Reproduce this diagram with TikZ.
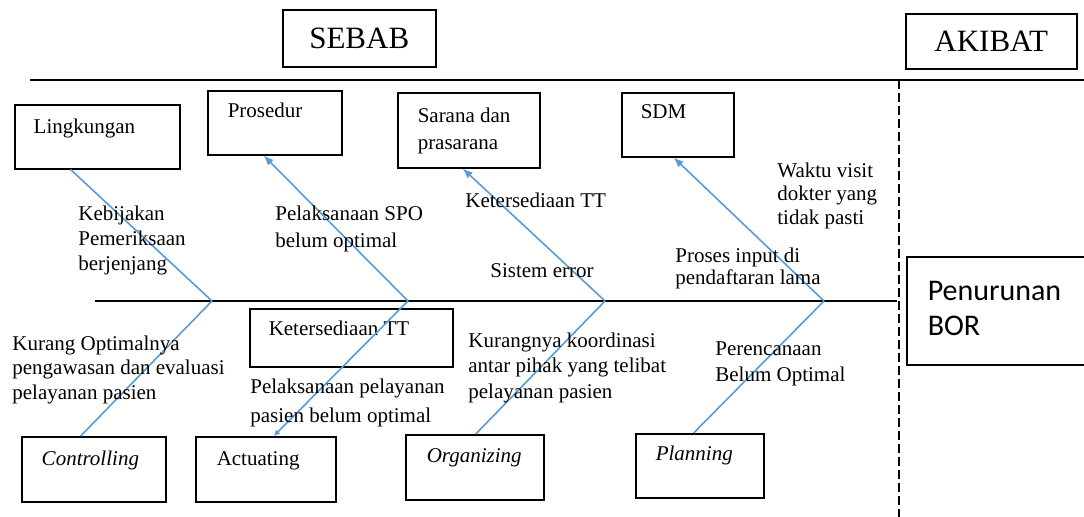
\documentclass[tikz,border=0pt]{standalone}
\usepackage{fontspec}
\setmainfont{Liberation Serif}
\newfontfamily\calibri{Carlito}
\usetikzlibrary{calc,arrows.meta}
\definecolor{biru}{RGB}{91,155,213}

\begin{document}
\begin{tikzpicture}[x=0.5pt,y=-0.5pt,
    kotak/.style={draw,line width=0.75pt,anchor=north west,inner ysep=0pt,align=flush left,font=\fontsize{10.5}{13.5}\selectfont},
    judul/.style={draw,line width=0.75pt,anchor=north west,inner sep=0pt,font=\fontsize{15.5}{18}\selectfont},
    ket/.style={anchor=base west,inner sep=0pt,align=flush left,font=\fontsize{10.5}{12.5}\selectfont},
    tulang/.style={draw=biru,line width=0.8pt},
    panah/.style={tulang,-{Latex[length=5pt,width=4pt]}}]
    \useasboundingbox (0,0) rectangle (1084,516);

    \coordinate (garisA) at (30,80);
    \coordinate (garisB) at (1084,80);
    \coordinate (batasA) at (899,80);
    \coordinate (batasB) at (899,520);
    \coordinate (ekor) at (95,301);
    \coordinate (kepala) at (897,301);
    \coordinate (j1) at (212,301);
    \coordinate (j2) at (408,301);
    \coordinate (j3) at (605,301);
    \coordinate (j4) at (824,301);

    % judul
    \node[judul,minimum width=76.5pt,minimum height=28.5pt] (sebab) at (282,9) {SEBAB};
    \node[judul,minimum width=85.5pt,minimum height=27.5pt] (akibat) at (905,13) {AKIBAT};

    % kotak atas
    \node[kotak,text width=63.5pt,inner xsep=9.5pt,text height=14.5pt,text depth=17.5pt] (lingkungan) at (14,104) {Lingkungan};
    \node[kotak,text width=47pt,inner xsep=10pt,text height=13.5pt,text depth=18.5pt] (prosedur) at (207,90) {Prosedur};
    \node[kotak,text width=51pt,inner xsep=10pt,text height=15pt,text depth=22.5pt] (sarana) at (397,92) {Sarana dan\\prasarana};
    \node[kotak,text width=37pt,inner xsep=9.5pt,text height=13pt,text depth=19pt] (sdm) at (621,92) {SDM};

    % kotak bawah
    \node[kotak,text width=52pt,inner xsep=10pt,text height=14.5pt,text depth=18pt] (controlling) at (21,436) {\textit{Controlling}};
    \node[kotak,text width=49pt,inner xsep=10.5pt,text height=14.5pt,text depth=18pt] (actuating) at (195,436) {Actuating};
    \node[kotak,text width=48pt,inner xsep=10.5pt,text height=14pt,text depth=18.5pt] (organizing) at (405,434) {\textit{Organizing}};
    \node[kotak,text width=44pt,inner xsep=10pt,text height=13.5pt,text depth=18.5pt] (planning) at (635,433) {\textit{Planning}};
    \node[kotak,text width=82.5pt,inner xsep=9.5pt,text height=13.5pt,text depth=15.5pt] (tt) at (249,308) {Ketersediaan TT};

    % akibat
    \node[kotak,text width=71pt,inner xsep=10.5pt,text height=22pt,text depth=32pt,font=\calibri\fontsize{15}{17.5}\selectfont] (bor) at (906,256) {Penurunan\\BOR};

    \draw[line width=0.8pt] (garisA) -- (garisB) (ekor) -- (kepala);
    \draw[line width=1pt,dash pattern=on 4.5pt off 2pt] (batasA) -- (batasB);

    \draw[tulang] (j1) -- ($(lingkungan.south west)!0.34!(lingkungan.south east)$);
    \draw[panah] (j2) -- ($(prosedur.south west)!0.418!(prosedur.south east)$);
    \draw[panah] (j3) -- ($(sarana.south west)!0.458!(sarana.south east)$);
    \draw[panah] (j4) -- ($(sdm.south west)!0.464!(sdm.south east)$);
    \draw[tulang] (j1) -- ($(controlling.north west)!0.41!(controlling.north east)$);
    \draw[tulang,-{Latex[length=3pt,width=3pt]}] (j2) -- ($(actuating.north west)!0.557!(actuating.north east)$);
    \draw[tulang] (j3) -- ($(organizing.north west)!0.507!(organizing.north east)$);
    \draw[tulang] (j4) -- ($(planning.north west)!0.453!(planning.north east)$);

    % keterangan (base = baris terakhir)
    \node[ket] (k1) at (78,270) {Kebijakan\\Pemeriksaan\\berjenjang};
    \node[ket,font=\fontsize{10.5}{13.5}\selectfont] (k2) at (275,247) {Pelaksanaan SPO\\belum optimal};
    \node[ket] (k3) at (465,207) {Ketersediaan TT};
    \node[ket] (k4) at (490,277) {Sistem error};
    \node[ket,font=\fontsize{10.5}{11.75}\selectfont] (k5) at (777,224) {Waktu visit\\dokter yang\\tidak pasti};
    \node[ket,font=\fontsize{10.5}{11}\selectfont] (k6) at (675,284) {Proses input di\\pendaftaran lama};
    \node[ket,font=\fontsize{10.5}{12.25}\selectfont] (k7) at (12,399) {Kurang Optimalnya\\pengawasan dan evaluasi\\pelayanan pasien};
    \node[ket,font=\fontsize{10.5}{14.5}\selectfont] (k8) at (250,422) {Pelaksanaan pelayanan\\pasien belum optimal};
    \node[ket,font=\fontsize{10.5}{12.75}\selectfont] (k9) at (468,398) {Kurangnya koordinasi\\antar pihak yang telibat\\pelayanan pasien};
    \node[ket,font=\fontsize{10.5}{13}\selectfont] (k10) at (715,381) {Perencanaan\\Belum Optimal};

\end{tikzpicture}
\end{document}
